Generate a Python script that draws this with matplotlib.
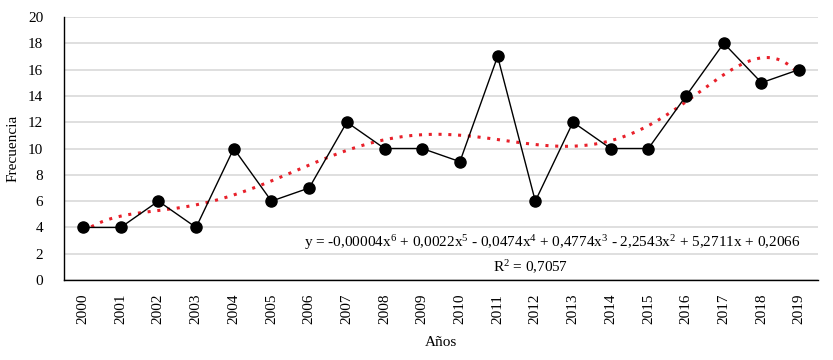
import matplotlib
matplotlib.use('agg')
import matplotlib.pyplot as plt
import numpy as np

# data
years = list(range(2000, 2020))
frecuencia = [4, 4, 6, 4, 10, 6, 7, 12, 10, 10, 9, 17, 6, 12, 10, 10, 14, 18, 15, 16]

plt.rcParams['font.family'] = ['Liberation Serif', 'DejaVu Serif']
plt.rcParams['mathtext.fontset'] = 'custom'
plt.rcParams['mathtext.rm'] = 'Liberation Serif'
plt.rcParams['mathtext.it'] = 'Liberation Serif'

fig = plt.figure(figsize=(8.33, 3.6), dpi=100)
ax = fig.add_axes([0.077, 0.222, 0.905, 0.731])

x = np.arange(1, len(years) + 1)
# 6th degree polynomial trend (excel style)
coef = np.polyfit(x, frecuencia, 6)
xs = np.linspace(1, len(years), 300)
ax.plot(xs, np.polyval(coef, xs), color='#e8202a', linestyle=(0, (1, 2.2)), linewidth=2.2, zorder=2)

ax.plot(x, frecuencia, color='black', linewidth=1, marker='o', markersize=8, zorder=3)

ax.set_xlim(0.5, len(years) + 0.5)
ax.set_ylim(0, 20)
ax.set_yticks(range(0, 21, 2))
ax.set_xticks(x)
ax.set_xticklabels([str(y) for y in years], rotation=90)
ax.tick_params(axis='both', length=0, labelsize=11)
ax.tick_params(axis='y', pad=15)
ax.tick_params(axis='x', pad=10)
ax.grid(axis='y', color='#d9d9d9', linewidth=1.2)
ax.set_axisbelow(True)
for s in ['top', 'right']:
    ax.spines[s].set_visible(False)
ax.spines['left'].set_linewidth(1)
ax.spines['bottom'].set_linewidth(1)

ax.set_ylabel('Frecuencia', fontsize=11, labelpad=6)
ax.set_xlabel('Años', fontsize=11, labelpad=8)

eq = ('y = -0,00004x$^6$ + 0,0022x$^5$ - 0,0474x$^4$ + 0,4774x$^3$ '
      '- 2,2543x$^2$ + 5,2711x + 0,2066')
ax.text(0.648, 0.144, eq, transform=ax.transAxes, ha='center', va='center', fontsize=11)
ax.text(0.619, 0.049, 'R$^2$ = 0,7057', transform=ax.transAxes, ha='center', va='center', fontsize=11)

plt.savefig('out.png', dpi=100)
